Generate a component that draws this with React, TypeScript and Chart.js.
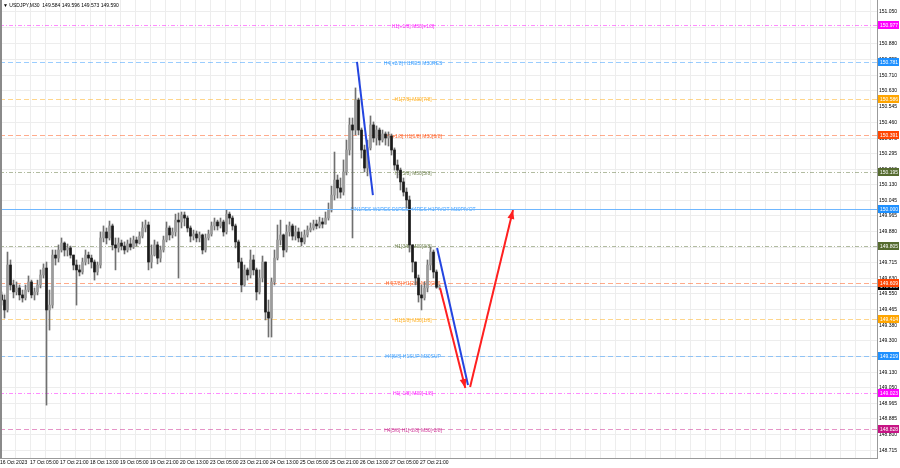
import React, { useEffect, useRef } from 'react';
import { Chart, registerables } from 'chart.js';

Chart.register(...registerables);

// ---------------- data ----------------
const symbolTitle = 'USDJPY,M30  149.584 149.596 149.573 149.590';

const xTickLabels = [
  '16 Oct 2023', '17 Oct 05:00', '17 Oct 21:00', '18 Oct 13:00', '19 Oct 05:00',
  '19 Oct 21:00', '20 Oct 13:00', '23 Oct 05:00', '23 Oct 21:00', '24 Oct 13:00',
  '25 Oct 05:00', '25 Oct 21:00', '26 Oct 13:00', '27 Oct 05:00', '27 Oct 21:00',
];

const yTickValues = [
  151.050, 150.965, 150.880, 150.795, 150.710, 150.630, 150.545, 150.460, 150.375, 150.295,
  150.210, 150.130, 150.045, 149.965, 149.880, 149.795, 149.715, 149.630, 149.550, 149.465,
  149.380, 149.300, 149.215, 149.130, 149.050, 148.965, 148.885, 148.800, 148.715,
];

const opens = [
  149.543, 149.516, 149.463, 149.702, 149.596, 149.559, 149.580, 149.543, 149.527, 149.569,
  149.612, 149.543, 149.559, 149.596, 149.649, 149.686, 149.463, 149.489, 149.755, 149.739,
  149.782, 149.819, 149.782, 149.793, 149.755, 149.702, 149.676, 149.665, 149.718, 149.755,
  149.739, 149.718, 149.665, 149.702, 149.846, 149.878, 149.846, 149.910, 149.809, 149.793,
  149.819, 149.803, 149.782, 149.814, 149.798, 149.835, 149.819, 149.856, 149.899, 149.915,
  149.718, 149.755, 149.809, 149.739, 149.782, 149.835, 149.899, 149.862, 149.878, 149.941,
  149.931, 149.968, 149.952, 149.899, 149.856, 149.867, 149.846, 149.862, 149.782, 149.846,
  149.867, 149.910, 149.931, 149.910, 149.931, 149.878, 149.973, 149.952, 149.910, 149.825,
  149.718, 149.596, 149.676, 149.649, 149.729, 149.676, 149.559, 149.633, 149.718, 149.452,
  149.420, 149.612, 149.739, 149.835, 149.862, 149.782, 149.878, 149.910, 149.856, 149.878,
  149.846, 149.825, 149.862, 149.888, 149.899, 149.920, 149.910, 149.931, 149.920, 149.952,
  149.995, 150.074, 150.154, 150.112, 150.090, 150.197, 150.314, 150.447, 150.420, 150.580,
  150.420, 150.314, 150.218, 150.325, 150.447, 150.378, 150.420, 150.367, 150.399, 150.378,
  150.388, 150.314, 150.234, 150.207, 150.144, 150.090, 150.048, 149.809, 149.718, 149.633,
  149.543, 149.527, 149.580, 149.702, 149.771, 149.665, 149.584,
];

const highs = [
  149.559, 149.543, 149.771, 149.729, 149.622, 149.612, 149.596, 149.569, 149.596, 149.644,
  149.622, 149.580, 149.622, 149.676, 149.708, 149.718, 149.569, 149.782, 149.782, 149.809,
  149.846, 149.825, 149.814, 149.803, 149.755, 149.729, 149.702, 149.739, 149.782, 149.771,
  149.755, 149.729, 149.718, 149.878, 149.910, 149.899, 149.936, 149.920, 149.846, 149.846,
  149.835, 149.825, 149.835, 149.846, 149.856, 149.851, 149.878, 149.931, 149.941, 149.931,
  149.809, 149.835, 149.825, 149.803, 149.856, 149.931, 149.910, 149.899, 149.973, 149.979,
  149.984, 149.984, 149.963, 149.910, 149.888, 149.883, 149.878, 149.867, 149.867, 149.888,
  149.931, 149.952, 149.941, 149.952, 149.941, 149.995, 149.984, 149.963, 149.920, 149.835,
  149.739, 149.702, 149.686, 149.782, 149.755, 149.686, 149.676, 149.750, 149.718, 149.516,
  149.633, 149.782, 149.915, 149.941, 149.867, 149.915, 149.931, 149.920, 149.910, 149.899,
  149.878, 149.888, 149.910, 149.926, 149.941, 149.941, 149.957, 149.952, 149.984, 150.032,
  150.122, 150.303, 150.181, 150.165, 150.261, 150.367, 150.484, 150.484, 150.644, 150.590,
  150.431, 150.340, 150.367, 150.495, 150.463, 150.442, 150.431, 150.420, 150.410, 150.410,
  150.399, 150.325, 150.261, 150.218, 150.165, 150.112, 150.069, 149.809, 149.718, 149.649,
  149.596, 149.612, 149.729, 149.798, 149.782, 149.676, 149.596,
];

const lows = [
  149.489, 149.420, 149.452, 149.569, 149.527, 149.543, 149.516, 149.505, 149.516, 149.559,
  149.527, 149.516, 149.543, 149.580, 149.633, 148.957, 149.356, 149.473, 149.702, 149.718,
  149.771, 149.750, 149.750, 149.739, 149.676, 149.489, 149.644, 149.654, 149.702, 149.708,
  149.686, 149.622, 149.649, 149.686, 149.825, 149.814, 149.835, 149.782, 149.676, 149.771,
  149.782, 149.761, 149.771, 149.782, 149.790, 149.803, 149.814, 149.846, 149.878, 149.676,
  149.686, 149.750, 149.708, 149.718, 149.771, 149.825, 149.835, 149.846, 149.856, 149.633,
  149.899, 149.910, 149.878, 149.825, 149.835, 149.825, 149.825, 149.761, 149.771, 149.835,
  149.856, 149.888, 149.888, 149.899, 149.856, 149.867, 149.920, 149.888, 149.793, 149.686,
  149.559, 149.590, 149.622, 149.633, 149.649, 149.516, 149.548, 149.612, 149.410, 149.319,
  149.319, 149.596, 149.729, 149.809, 149.745, 149.771, 149.856, 149.835, 149.835, 149.825,
  149.803, 149.814, 149.851, 149.878, 149.888, 149.894, 149.899, 149.899, 149.920, 149.941,
  149.984, 150.048, 150.058, 150.058, 150.074, 150.181, 150.287, 149.846, 150.394, 150.394,
  150.271, 150.197, 150.176, 150.314, 150.356, 150.340, 150.340, 150.356, 150.340, 150.335,
  150.287, 150.207, 150.165, 150.101, 150.069, 150.005, 149.771, 149.665, 149.596, 149.505,
  149.463, 149.516, 149.559, 149.676, 149.633, 149.578, 149.573,
];

const closes = [
  149.516, 149.463, 149.702, 149.596, 149.559, 149.580, 149.543, 149.527, 149.569, 149.612,
  149.543, 149.559, 149.596, 149.649, 149.686, 149.463, 149.489, 149.755, 149.739, 149.782,
  149.819, 149.782, 149.793, 149.755, 149.702, 149.676, 149.665, 149.718, 149.755, 149.739,
  149.718, 149.665, 149.702, 149.846, 149.878, 149.846, 149.910, 149.809, 149.793, 149.819,
  149.803, 149.782, 149.814, 149.798, 149.835, 149.819, 149.856, 149.899, 149.915, 149.718,
  149.755, 149.809, 149.739, 149.782, 149.835, 149.899, 149.862, 149.878, 149.941, 149.931,
  149.968, 149.952, 149.899, 149.856, 149.867, 149.846, 149.862, 149.782, 149.846, 149.867,
  149.910, 149.931, 149.910, 149.931, 149.878, 149.973, 149.952, 149.910, 149.825, 149.718,
  149.596, 149.676, 149.649, 149.729, 149.676, 149.559, 149.633, 149.718, 149.452, 149.420,
  149.612, 149.739, 149.835, 149.862, 149.782, 149.878, 149.910, 149.856, 149.878, 149.846,
  149.825, 149.862, 149.888, 149.899, 149.920, 149.910, 149.931, 149.920, 149.952, 149.995,
  150.074, 150.154, 150.112, 150.090, 150.197, 150.314, 150.447, 150.420, 150.580, 150.420,
  150.314, 150.218, 150.325, 150.447, 150.378, 150.420, 150.367, 150.399, 150.378, 150.388,
  150.314, 150.234, 150.207, 150.144, 150.090, 150.048, 149.809, 149.718, 149.633, 149.543,
  149.527, 149.580, 149.702, 149.771, 149.665, 149.584, 149.590,
];

const levelPrices = [
  150.977, 150.781, 150.586, 150.391, 150.195, 150.000,
  149.805, 149.609, 149.414, 149.219, 149.023, 148.828,
];
const levelNames = [
  'H1[+1/8] M30[+1/8]',
  'H4[+2/8] H1RES M30RES',
  'H1[7/8] M30[7/8]',
  'H4[+1/8] H1[6/8] M30[6/8]',
  'H1[5/8] M30[5/8]',
  'MN1RES W1RES D1RES H4RES H1PIVOT M30PIVOT',
  'H1[3/8] M30[3/8]',
  'H4[7/8] H1[2/8] M30[2/8]',
  'H1[1/8] M30[1/8]',
  'H4[6/8] H1SUP M30SUP',
  'H1[-1/8] M30[-1/8]',
  'H4[5/8] H1[-2/8] M30[-2/8]',
];
const currentPrice = 149.590;

// hand-drawn trend lines / arrows (bar index, price)
const blueLine1 = [{ x: 118.5, y: 150.782 }, { x: 123.8, y: 150.074 }];
const blueLine2 = [{ x: 145.2, y: 149.793 }, { x: 155.5, y: 149.064 }];
const redArrow1 = [{ x: 146.2, y: 149.580 }, { x: 154.6, y: 149.048 }];
const redArrow2 = [{ x: 156.2, y: 149.053 }, { x: 170.5, y: 149.995 }];

// ---------------- styles ----------------
const FONT = '"Liberation Sans", Arial, sans-serif';
const levelStyles = [
  { color: '#ff00ff', dash: [4, 2, 1, 2] },
  { color: '#1e90ff', dash: [5, 3] },
  { color: '#ffa500', dash: [5, 3] },
  { color: '#ff4500', dash: [5, 3] },
  { color: '#556b2f', dash: [4, 2, 1, 2] },
  { color: '#1e90ff', dash: [] as number[] },
  { color: '#556b2f', dash: [4, 2, 1, 2] },
  { color: '#ff4500', dash: [5, 3] },
  { color: '#ffa500', dash: [5, 3] },
  { color: '#1e90ff', dash: [5, 3] },
  { color: '#ff00ff', dash: [4, 2, 1, 2] },
  { color: '#c71585', dash: [5, 3] },
];
const SOLID_LEVEL_COLOR = '#6fb7ff';
const LABEL_INDEX = 137.2;
const X_MIN = -0.5;
const X_MAX = -0.5 + 877 / 3;

function drawArrowHead(ctx: CanvasRenderingContext2D, x0: number, y0: number, x1: number, y1: number, color: string) {
  const ang = Math.atan2(y1 - y0, x1 - x0);
  const len = 9;
  const half = 3.5;
  const bx = x1 - len * Math.cos(ang);
  const by = y1 - len * Math.sin(ang);
  ctx.fillStyle = color;
  ctx.beginPath();
  ctx.moveTo(x1, y1);
  ctx.lineTo(bx + half * Math.sin(ang), by - half * Math.cos(ang));
  ctx.lineTo(bx - half * Math.sin(ang), by + half * Math.cos(ang));
  ctx.closePath();
  ctx.fill();
}

const overlayPlugin = {
  id: 'mtOverlay',
  beforeDatasetsDraw(chart: any) {
    const { ctx, chartArea: a, scales } = chart;
    const x = scales.x;
    const y = scales.y;
    ctx.save();
    ctx.lineWidth = 1;
    // bid line
    const cp = Math.round(y.getPixelForValue(currentPrice)) + 0.5;
    ctx.strokeStyle = 'rgba(170,185,210,0.6)';
    ctx.beginPath();
    ctx.moveTo(a.left, cp);
    ctx.lineTo(a.right, cp);
    ctx.stroke();
    levelPrices.forEach((p, k) => {
      const st = levelStyles[k];
      if (!st.dash.length) return;
      const pyRaw = Math.round(y.getPixelForValue(p));
      ctx.strokeStyle = st.color;
      ctx.globalAlpha = 0.45;
      ctx.setLineDash(st.dash);
      ctx.beginPath();
      ctx.moveTo(a.left, pyRaw + 0.5);
      ctx.lineTo(a.right, pyRaw + 0.5);
      ctx.stroke();
    });
    ctx.setLineDash([]);
    ctx.globalAlpha = 1;
    ctx.font = `5px ${FONT}`;
    ctx.textAlign = 'center';
    ctx.textBaseline = 'middle';
    const lx = x.getPixelForValue(LABEL_INDEX);
    levelNames.forEach((t, k) => {
      ctx.fillStyle = levelStyles[k].color;
      ctx.globalAlpha = 0.85;
      ctx.fillText(t, lx, y.getPixelForValue(levelPrices[k]) + 1);
    });
    ctx.restore();
  },
  afterDatasetsDraw(chart: any) {
    const { ctx, chartArea: a, scales } = chart;
    const x = scales.x;
    const y = scales.y;
    ctx.save();
    // solid pivot level on top of the bars
    levelPrices.forEach((p, k) => {
      if (levelStyles[k].dash.length) return;
      const pyRaw = Math.round(y.getPixelForValue(p));
      ctx.fillStyle = SOLID_LEVEL_COLOR;
      ctx.fillRect(a.left, pyRaw, a.right - a.left, 1);
    });
    [redArrow1, redArrow2].forEach((seg) => {
      const x0 = x.getPixelForValue(seg[0].x);
      const y0 = y.getPixelForValue(seg[0].y);
      const x1 = x.getPixelForValue(seg[1].x);
      const y1 = y.getPixelForValue(seg[1].y);
      drawArrowHead(ctx, x0, y0, x1, y1, '#ff2020');
    });
    ctx.restore();
  },
  afterDraw(chart: any) {
    const { ctx, chartArea: a, scales } = chart;
    const y = scales.y;
    ctx.save();
    // left border
    ctx.fillStyle = '#8a8a8a';
    ctx.fillRect(0, a.top, 2, a.bottom - a.top);
    // price boxes on the axis
    ctx.font = `5px ${FONT}`;
    ctx.textAlign = 'left';
    ctx.textBaseline = 'middle';
    const bx = a.right + 1;
    const drawBox = (p: number, color: string) => {
      const py = Math.round(y.getPixelForValue(p));
      ctx.fillStyle = color;
      ctx.fillRect(bx, py - 4, 21, 8);
      ctx.fillStyle = '#ffffff';
      ctx.fillText(p.toFixed(3), bx + 2, py + 0.5);
    };
    drawBox(currentPrice, '#000000');
    levelPrices.forEach((p, k) => drawBox(p, levelStyles[k].color));
    // title
    ctx.fillStyle = '#000000';
    ctx.font = `5px ${FONT}`;
    ctx.fillText('\u25BC ' + symbolTitle, a.left + 3, a.top + 6);
    ctx.restore();
  },
};

export default function App() {
  const ref = useRef<HTMLCanvasElement>(null);
  useEffect(() => {
    document.body.style.margin = '0';
    if (!ref.current) return;
    const idx = closes.map((_, i) => i);
    const chart = new Chart(ref.current, {
      type: 'bar',
      data: {
        datasets: [
          {
            type: 'bar',
            label: 'wicks',
            data: idx.map((i) => ({ x: i, y: [lows[i], highs[i]] })) as any,
            backgroundColor: '#707070',
            barThickness: 1,
            grouped: false,
            order: 3,
          } as any,
          {
            type: 'bar',
            label: 'bodies',
            data: idx.map((i) => ({ x: i, y: [opens[i], closes[i]] })) as any,
            backgroundColor: idx.map((i) => (closes[i] >= opens[i] ? '#9c9c9c' : '#1a1a1a')),
            barThickness: 2,
            minBarLength: 1,
            grouped: false,
            order: 2,
          } as any,
          { type: 'line', label: 'b1', data: blueLine1 as any, borderColor: '#2445e0', borderWidth: 2, pointRadius: 0, order: 1 } as any,
          { type: 'line', label: 'b2', data: blueLine2 as any, borderColor: '#2445e0', borderWidth: 2, pointRadius: 0, order: 1 } as any,
          { type: 'line', label: 'r1', data: redArrow1 as any, borderColor: '#ff2020', borderWidth: 2, pointRadius: 0, order: 1 } as any,
          { type: 'line', label: 'r2', data: redArrow2 as any, borderColor: '#ff2020', borderWidth: 2, pointRadius: 0, order: 1 } as any,
        ],
      },
      options: {
        responsive: false,
        animation: false,
        devicePixelRatio: 1,
        events: [],
        layout: { padding: 0 },
        plugins: { legend: { display: false }, tooltip: { enabled: false }, title: { display: false } },
        scales: {
          x: {
            type: 'linear',
            min: X_MIN,
            max: X_MAX,
            offset: false,
            grid: { color: '#ededed', drawTicks: false, offset: false },
            border: { display: true, color: '#9a9a9a' },
            ticks: {
              autoSkip: false,
              maxRotation: 0,
              align: 'start',
              padding: 2,
              color: '#000',
              font: { size: 5, family: FONT },
              callback: (_v: any, index: number) => (index % 2 === 0 && xTickLabels[index / 2]) ? xTickLabels[index / 2] : '',
            },
            afterBuildTicks: (s: any) => {
              const t = [];
              for (let k = 0; k * 5 + X_MIN <= X_MAX; k++) t.push({ value: X_MIN + k * 5 });
              s.ticks = t;
            },
            afterFit: (s: any) => {
              s.height = 10;
              s.paddingLeft = 0;
              s.paddingRight = 0;
            },
          } as any,
          y: {
            type: 'linear',
            position: 'right',
            min: 148.6756,
            max: 151.1117,
            grid: { color: '#ededed', drawTicks: false },
            border: { display: true, color: '#9a9a9a' },
            ticks: {
              autoSkip: false,
              padding: 2,
              color: '#000',
              font: { size: 5, family: FONT },
              callback: (v: any) => Number(v).toFixed(3),
            },
            afterBuildTicks: (s: any) => {
              s.ticks = yTickValues.map((v) => ({ value: v }));
            },
            afterFit: (s: any) => {
              s.width = 23;
              s.paddingTop = 0;
              s.paddingBottom = 0;
            },
          } as any,
        },
      },
      plugins: [overlayPlugin],
    } as any);
    return () => chart.destroy();
  }, []);
  return (
    <div style={{ width: 900, height: 468 }}>
      <canvas ref={ref} width={900} height={468} style={{ display: 'block' }} />
    </div>
  );
}
